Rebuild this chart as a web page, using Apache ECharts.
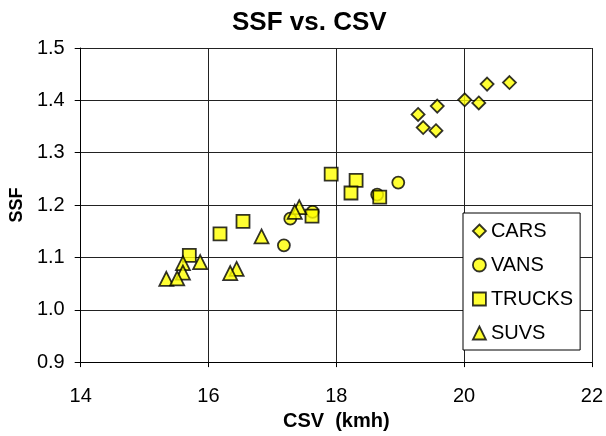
<!DOCTYPE html>
<html lang="en">
<head>
  <meta charset="UTF-8">
  <title>SSF vs. CSV</title>
  <script src="https://cdnjs.cloudflare.com/ajax/libs/echarts/6.0.0/echarts.min.js"></script>
  <style>
    html, body { margin: 0; padding: 0; background: #fff; }
    #chart { width: 606px; height: 436px; }
  </style>
</head>
<body>
  <div id="chart"></div>
  <script>
    // values: [CSV, SSF]
    const cars = [
      [20.36, 1.431], [20.71, 1.434], [20.01, 1.401], [20.23, 1.395],
      [19.58, 1.389], [19.28, 1.373], [19.36, 1.348], [19.56, 1.342]
    ];
    const vans = [
      [18.97, 1.243], [18.64, 1.220], [17.63, 1.187], [17.28, 1.174], [17.18, 1.123]
    ];
    const trucks = [
      [17.92, 1.259], [18.31, 1.247], [18.23, 1.223], [18.68, 1.215],
      [17.62, 1.179], [16.54, 1.169], [16.18, 1.145], [15.70, 1.104]
    ];
    const suvs = [
      [17.42, 1.196], [17.35, 1.187], [16.83, 1.140], [15.87, 1.091], [15.60, 1.089],
      [15.60, 1.071], [16.44, 1.078], [16.34, 1.070], [15.34, 1.059], [15.51, 1.060]
    ];

    const FONT = 'Liberation Sans, Arial, sans-serif';
    const markStyle = { color: '#ffff00', borderColor: '#000', borderWidth: 1.8 };

    var chart = echarts.init(document.getElementById('chart'));

    function makeSeries(name, data, symbol, size) {
      return {
        name: name,
        type: 'scatter',
        data: data,
        symbol: symbol,
        symbolSize: size,
        itemStyle: markStyle,
        emphasis: { disabled: true }
      };
    }

    chart.setOption({
      animation: false,
      textStyle: { fontFamily: FONT },
      title: {
        text: 'SSF vs. CSV',
        left: 232,
        top: 10,
        padding: 0,
        textStyle: { fontFamily: FONT, fontSize: 26, fontWeight: 'bold', color: '#000' }
      },
      grid: { left: 79, right: 13, top: 48, bottom: 68, containLabel: false },
      legend: {
        orient: 'vertical',
        left: 463,
        top: 213,
        padding: [8, 7, 7, 9],
        itemGap: 14,
        itemWidth: 13,
        itemHeight: 13,
        backgroundColor: '#fff',
        borderColor: '#000',
        borderWidth: 1,
        borderRadius: 0,
        itemStyle: markStyle,
        textStyle: { fontFamily: FONT, fontSize: 20, color: '#000', lineHeight: 20 },
        data: ['CARS', 'VANS', 'TRUCKS', 'SUVS']
      },
      xAxis: {
        type: 'value',
        min: 14,
        max: 22,
        interval: 2,
        name: 'CSV  (kmh)',
        nameLocation: 'middle',
        nameGap: 46,
        nameTextStyle: { fontFamily: FONT, fontSize: 20, fontWeight: 'bold', color: '#000' },
        axisLine: { show: true, onZero: false, lineStyle: { color: '#000', width: 1 } },
        axisTick: { show: true, length: 5, lineStyle: { color: '#000' } },
        axisLabel: { fontFamily: FONT, fontSize: 20, color: '#000', margin: 24 },
        splitLine: { show: true, lineStyle: { color: '#222', width: 1 } }
      },
      yAxis: {
        type: 'value',
        min: 0.9,
        max: 1.5,
        interval: 0.1,
        name: 'SSF',
        nameLocation: 'middle',
        nameRotate: 90,
        nameGap: 48,
        nameTextStyle: { fontFamily: FONT, fontSize: 18, fontWeight: 'bold', color: '#000' },
        axisLine: { show: true, onZero: false, lineStyle: { color: '#000', width: 1 } },
        axisTick: { show: true, length: 6, lineStyle: { color: '#000' } },
        axisLabel: {
          fontFamily: FONT, fontSize: 20, color: '#000', margin: 16,
          formatter: v => v.toFixed(1)
        },
        splitLine: { show: true, lineStyle: { color: '#222', width: 1 } }
      },
      series: [
        makeSeries('CARS', cars, 'diamond', 13),
        makeSeries('VANS', vans, 'circle', 12),
        makeSeries('TRUCKS', trucks, 'rect', 13),
        makeSeries('SUVS', suvs, 'triangle', 14)
      ]
    });
  </script>
</body>
</html>
